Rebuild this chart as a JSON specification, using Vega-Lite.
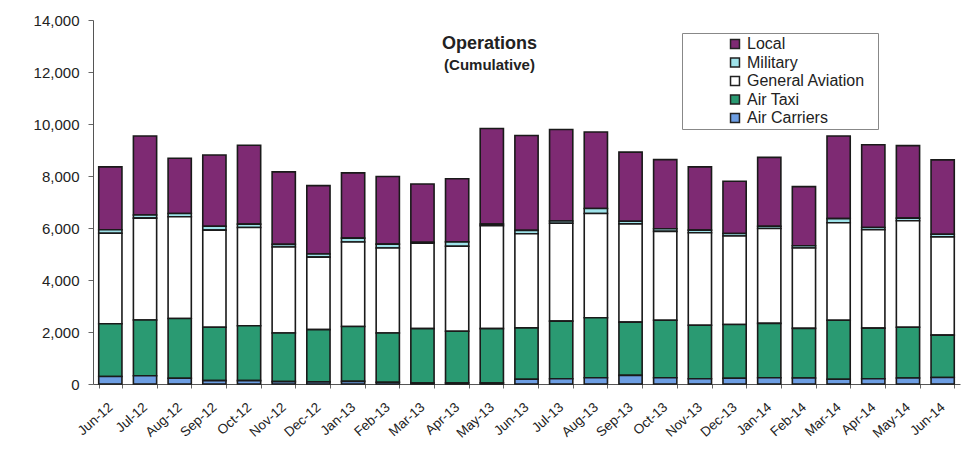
{
  "$schema": "https://vega.github.io/schema/vega-lite/v6.json",
  "autosize": {"type": "none"},
  "width": 867,
  "height": 364,
  "padding": {"left": 93, "top": 20, "right": 2, "bottom": 92},
  "background": "white",
  "config": {"view": {"stroke": null}, "font": "Liberation Sans"},
  "title": {
    "text": "Operations",
    "subtitle": "(Cumulative)",
    "font": "Liberation Sans",
    "fontSize": 18,
    "fontWeight": "bold",
    "color": "#222",
    "subtitleFont": "Liberation Sans",
    "subtitleFontSize": 15,
    "subtitleFontWeight": "bold",
    "subtitleColor": "#222",
    "subtitlePadding": 5,
    "anchor": "middle",
    "dx": -37,
    "offset": -60
  },
  "data": {
    "values": [
      {"month": "Jun-12", "Air Carriers": 290, "Air Taxi": 2030, "General Aviation": 3480, "Military": 130, "Local": 2420},
      {"month": "Jul-12", "Air Carriers": 320, "Air Taxi": 2140, "General Aviation": 3920, "Military": 120, "Local": 3040},
      {"month": "Aug-12", "Air Carriers": 220, "Air Taxi": 2300, "General Aviation": 3910, "Military": 130, "Local": 2120},
      {"month": "Sep-12", "Air Carriers": 130, "Air Taxi": 2050, "General Aviation": 3740, "Military": 150, "Local": 2740},
      {"month": "Oct-12", "Air Carriers": 130, "Air Taxi": 2110, "General Aviation": 3780, "Military": 130, "Local": 3030},
      {"month": "Nov-12", "Air Carriers": 90, "Air Taxi": 1870, "General Aviation": 3310, "Military": 100, "Local": 2790},
      {"month": "Dec-12", "Air Carriers": 80, "Air Taxi": 2010, "General Aviation": 2790, "Military": 120, "Local": 2630},
      {"month": "Jan-13", "Air Carriers": 100, "Air Taxi": 2110, "General Aviation": 3250, "Military": 150, "Local": 2510},
      {"month": "Feb-13", "Air Carriers": 70, "Air Taxi": 1890, "General Aviation": 3270, "Military": 150, "Local": 2600},
      {"month": "Mar-13", "Air Carriers": 40, "Air Taxi": 2090, "General Aviation": 3290, "Military": 30, "Local": 2240},
      {"month": "Apr-13", "Air Carriers": 40, "Air Taxi": 1990, "General Aviation": 3270, "Military": 165, "Local": 2430},
      {"month": "May-13", "Air Carriers": 40, "Air Taxi": 2090, "General Aviation": 3960, "Military": 65, "Local": 3670},
      {"month": "Jun-13", "Air Carriers": 180, "Air Taxi": 1980, "General Aviation": 3620, "Military": 130, "Local": 3650},
      {"month": "Jul-13", "Air Carriers": 200, "Air Taxi": 2220, "General Aviation": 3760, "Military": 90, "Local": 3520},
      {"month": "Aug-13", "Air Carriers": 240, "Air Taxi": 2310, "General Aviation": 4010, "Military": 190, "Local": 2940},
      {"month": "Sep-13", "Air Carriers": 330, "Air Taxi": 2050, "General Aviation": 3780, "Military": 100, "Local": 2660},
      {"month": "Oct-13", "Air Carriers": 240, "Air Taxi": 2210, "General Aviation": 3420, "Military": 100, "Local": 2660},
      {"month": "Nov-13", "Air Carriers": 200, "Air Taxi": 2060, "General Aviation": 3560, "Military": 100, "Local": 2430},
      {"month": "Dec-13", "Air Carriers": 220, "Air Taxi": 2070, "General Aviation": 3400, "Military": 100, "Local": 2010},
      {"month": "Jan-14", "Air Carriers": 240, "Air Taxi": 2090, "General Aviation": 3650, "Military": 85, "Local": 2650},
      {"month": "Feb-14", "Air Carriers": 230, "Air Taxi": 1910, "General Aviation": 3090, "Military": 90, "Local": 2270},
      {"month": "Mar-14", "Air Carriers": 180, "Air Taxi": 2270, "General Aviation": 3750, "Military": 160, "Local": 3180},
      {"month": "Apr-14", "Air Carriers": 200, "Air Taxi": 1950, "General Aviation": 3780, "Military": 90, "Local": 3180},
      {"month": "May-14", "Air Carriers": 230, "Air Taxi": 1950, "General Aviation": 4100, "Military": 100, "Local": 2790},
      {"month": "Jun-14", "Air Carriers": 250, "Air Taxi": 1630, "General Aviation": 3780, "Military": 100, "Local": 2860}
    ]
  },
  "transform": [
    {"fold": ["Local", "Military", "General Aviation", "Air Taxi", "Air Carriers"], "as": ["type", "ops"]},
    {"calculate": "indexof(['Air Carriers','Air Taxi','General Aviation','Military','Local'], datum.type)", "as": "ord"}
  ],
  "mark": {"type": "bar", "stroke": "#1a1a1a", "strokeWidth": 1.6},
  "encoding": {
    "x": {
      "field": "month",
      "type": "nominal",
      "sort": null,
      "scale": {"paddingInner": 0.33, "paddingOuter": 0.165},
      "axis": {
        "title": null,
        "labelAngle": -42,
        "labelAlign": "right",
        "labelBaseline": "middle",
        "labelFont": "Liberation Sans",
        "labelFontSize": 13.5,
        "labelColor": "#222",
        "labelPadding": 17,
        "tickBand": "extent",
        "tickSize": 4,
        "tickColor": "#666",
        "domainColor": "#555",
        "labelOverlap": false
      }
    },
    "y": {
      "field": "ops",
      "type": "quantitative",
      "stack": "zero",
      "scale": {"domain": [0, 14000], "nice": false},
      "axis": {
        "title": null,
        "values": [0, 2000, 4000, 6000, 8000, 10000, 12000, 14000],
        "format": ",.0f",
        "grid": false,
        "labelFont": "Liberation Sans",
        "labelFontSize": 15,
        "labelColor": "#222",
        "labelPadding": 9,
        "tickSize": 5,
        "tickColor": "#666",
        "domainColor": "#555"
      }
    },
    "color": {
      "field": "type",
      "type": "nominal",
      "scale": {
        "domain": ["Local", "Military", "General Aviation", "Air Taxi", "Air Carriers"],
        "range": ["#7E2A73", "#9FE3EA", "#FFFFFF", "#2A9A72", "#6D9EE3"]
      },
      "legend": {
        "orient": "none",
        "legendX": 589,
        "legendY": 13,
        "title": " ",
        "titleOrient": "right",
        "titlePadding": 10,
        "titleFontSize": 10,
        "strokeColor": "#888",
        "fillColor": "white",
        "padding": 3,
        "symbolType": "square",
        "symbolSize": 80,
        "symbolStrokeColor": "#222",
        "symbolStrokeWidth": 1.5,
        "symbolOffset": 42,
        "labelFont": "Liberation Sans",
        "labelFontSize": 16,
        "labelColor": "#222",
        "labelOffset": 4,
        "rowPadding": 2.5,
        "labelLimit": 220
      }
    },
    "order": {"field": "ord", "type": "quantitative"}
  }
}
